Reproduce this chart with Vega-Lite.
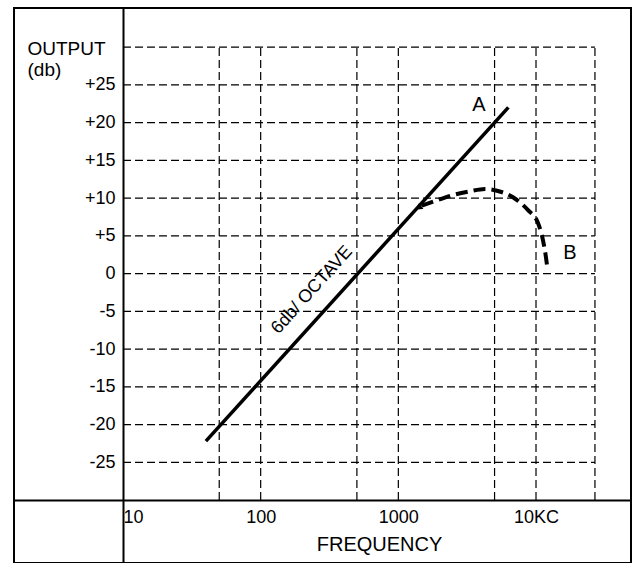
{
  "$schema": "https://vega.github.io/schema/vega-lite/v6.json",
  "width": 617,
  "height": 555,
  "autosize": {"type": "none"},
  "padding": {"left": 14, "top": 8, "right": 4, "bottom": 0},
  "background": "white",
  "config": {
    "view": {"stroke": "black", "strokeWidth": 2},
    "font": "Liberation Sans",
    "axis": {
      "domainColor": "black",
      "domainWidth": 2,
      "ticks": false,
      "grid": false,
      "labelColor": "black",
      "titleColor": "black",
      "labelFont": "Liberation Sans",
      "titleFont": "Liberation Sans",
      "titleFontWeight": "normal"
    }
  },
  "datasets": {
    "hgrid": [
      {"db": 30, "f": 10, "f2": 26800},
      {"db": 25, "f": 10, "f2": 26800},
      {"db": 20, "f": 10, "f2": 26800},
      {"db": 15, "f": 10, "f2": 26800},
      {"db": 10, "f": 10, "f2": 26800},
      {"db": 5, "f": 10, "f2": 26800},
      {"db": 0, "f": 10, "f2": 26800},
      {"db": -5, "f": 10, "f2": 26800},
      {"db": -10, "f": 10, "f2": 26800},
      {"db": -15, "f": 10, "f2": 26800},
      {"db": -20, "f": 10, "f2": 26800},
      {"db": -25, "f": 10, "f2": 26800}
    ],
    "vgrid": [
      {"f": 50, "db": -30, "db2": 30},
      {"f": 100, "db": -30, "db2": 30},
      {"f": 500, "db": -30, "db2": 30},
      {"f": 1000, "db": -30, "db2": 30},
      {"f": 5000, "db": -30, "db2": 30},
      {"f": 10000, "db": -30, "db2": 30},
      {"f": 26800, "db": -30, "db2": 30}
    ],
    "lineA": [
      {"f": 40, "db": -22.2},
      {"f": 6300, "db": 22}
    ],
    "curveB": [
      {"f": 1480, "db": 9.0},
      {"f": 1846, "db": 9.6},
      {"f": 2495, "db": 10.4},
      {"f": 3318, "db": 10.9},
      {"f": 4261, "db": 11.2},
      {"f": 5120, "db": 11.0},
      {"f": 6805, "db": 10.1},
      {"f": 8750, "db": 8.4},
      {"f": 10340, "db": 6.7},
      {"f": 11240, "db": 4.4},
      {"f": 11820, "db": 2.1},
      {"f": 12020, "db": 1.1}
    ],
    "arrow": [
      {"f": 1425, "db": 8.8}
    ],
    "labels": [
      {"f": 3855, "db": 22.3, "label": "A"},
      {"f": 17660, "db": 2.7, "label": "B"}
    ],
    "slope": [
      {"f": 236, "db": -2.2, "label": "6db/ OCTAVE"}
    ]
  },
  "encoding": {
    "x": {
      "field": "f",
      "type": "quantitative",
      "scale": {"type": "log", "domain": [1.615, 48980], "nice": false, "zero": false},
      "axis": {
        "orient": "bottom",
        "offset": -63,
        "values": [10, 100, 1000, 10000],
        "labelExpr": "datum.value == 10 ? '10' : datum.value == 100 ? '100' : datum.value == 1000 ? '1000' : '10KC'",
        "labelAlign": {"condition": {"test": "datum.value == 10", "value": "left"}, "value": "center"},
        "labelFontSize": 18,
        "labelPadding": 8,
        "labelBaseline": "top",
        "title": "FREQUENCY",
        "titleFontSize": 20,
        "titleX": 365,
        "titleY": 50,
        "titleAlign": "center",
        "titleBaseline": "alphabetic"
      }
    },
    "y": {
      "field": "db",
      "type": "quantitative",
      "scale": {"domain": [-38.34, 35.17], "nice": false, "zero": false},
      "axis": {
        "orient": "left",
        "offset": -109,
        "values": [-25, -20, -15, -10, -5, 0, 5, 10, 15, 20, 25],
        "labelExpr": "datum.value > 0 ? '+' + datum.value : '' + datum.value",
        "labelFontSize": 18,
        "labelPadding": 8,
        "labelBaseline": "middle",
        "title": ["OUTPUT", "(db)"],
        "titleFontSize": 19,
        "titleAngle": 0,
        "titleAlign": "left",
        "titleBaseline": "alphabetic",
        "titleLineHeight": 21,
        "titleX": -96,
        "titleY": 46
      }
    }
  },
  "layer": [
    {
      "data": {"name": "hgrid"},
      "mark": {"type": "rule", "color": "black", "strokeWidth": 1.2, "strokeDash": [8, 4]},
      "encoding": {"x2": {"field": "f2"}}
    },
    {
      "data": {"name": "vgrid"},
      "mark": {"type": "rule", "color": "black", "strokeWidth": 1.2, "strokeDash": [8, 4]},
      "encoding": {"y2": {"field": "db2"}}
    },
    {
      "data": {"name": "lineA"},
      "mark": {"type": "line", "color": "black", "strokeWidth": 3.5}
    },
    {
      "data": {"name": "curveB"},
      "mark": {"type": "line", "color": "black", "strokeWidth": 4, "strokeDash": [12, 6], "interpolate": "monotone"}
    },
    {
      "data": {"name": "arrow"},
      "mark": {"type": "point", "shape": "triangle", "angle": 235, "size": 55, "filled": true, "color": "black", "opacity": 1}
    },
    {
      "data": {"name": "labels"},
      "mark": {"type": "text", "fontSize": 20, "color": "black", "align": "center", "baseline": "middle", "font": "Liberation Sans"},
      "encoding": {"text": {"field": "label"}}
    },
    {
      "data": {"name": "slope"},
      "mark": {"type": "text", "fontSize": 18, "color": "black", "align": "center", "baseline": "middle", "angle": -48, "font": "Liberation Sans"},
      "encoding": {"text": {"field": "label"}}
    }
  ]
}
